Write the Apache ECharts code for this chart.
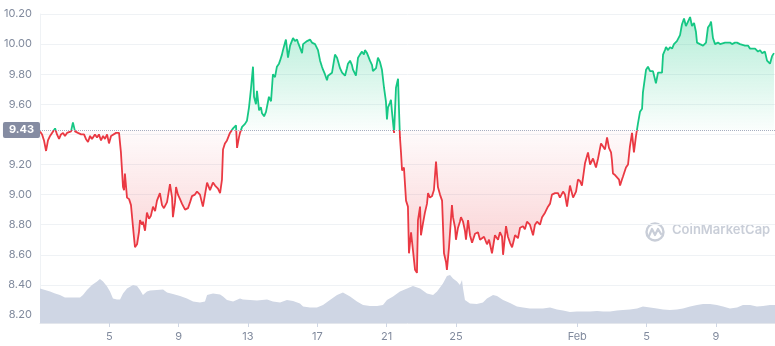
<!DOCTYPE html>
<html>
<head>
<meta charset="utf-8">
<script src="https://cdn.jsdelivr.net/npm/echarts@6/dist/echarts.min.js"></script>
<style>
  html, body { margin: 0; padding: 0; background: #fff; }
  #chart { width: 775px; height: 346px; }
</style>
</head>
<body>
<div id="chart"></div>
<script>
// days since Jan 1 00:00
var priceDays = [
  0.00, 0.12, 0.23, 0.35, 0.46, 0.58, 0.69, 0.87, 0.98, 1.10, 1.21, 1.33, 1.44, 1.56, 1.67, 1.79, 1.90, 2.02, 2.19, 2.37,
  2.54, 2.65, 2.77, 2.89, 3.00, 3.17, 3.29, 3.40, 3.52, 3.64, 3.75, 3.87, 3.98, 4.10, 4.21, 4.39, 4.56, 4.67, 4.79, 4.85,
  4.90, 5.02, 5.14, 5.25, 5.37, 5.42, 5.48, 5.60, 5.71, 5.77, 5.89, 5.94, 6.06, 6.17, 6.29, 6.40, 6.52, 6.64, 6.75, 6.92,
  7.04, 7.15, 7.33, 7.50, 7.62, 7.67, 7.79, 7.85, 7.96, 8.08, 8.19, 8.37, 8.54, 8.66, 8.77, 8.94, 9.06, 9.23, 9.40, 9.52,
  9.64, 9.81, 9.98, 10.10, 10.27, 10.39, 10.50, 10.56, 10.67, 10.79, 10.96, 11.14, 11.31, 11.37, 11.48, 11.54, 11.66, 11.83, 11.94, 12.06,
  12.17, 12.29, 12.35, 12.46, 12.52, 12.64, 12.75, 12.81, 12.93, 13.04, 13.10, 13.21, 13.33, 13.44, 13.56, 13.67, 13.79, 13.85, 13.96, 14.02,
  14.14, 14.19, 14.31, 14.43, 14.54, 14.60, 14.71, 14.83, 14.89, 15.00, 15.12, 15.18, 15.29, 15.41, 15.58, 15.69, 15.87, 16.04, 16.16, 16.27,
  16.33, 16.44, 16.56, 16.62, 16.73, 16.85, 17.02, 17.14, 17.19, 17.31, 17.43, 17.60, 17.71, 17.77, 17.89, 18.00, 18.06, 18.23, 18.35, 18.46,
  18.58, 18.69, 18.75, 18.87, 18.93, 19.04, 19.16, 19.21, 19.39, 19.50, 19.62, 19.73, 19.85, 19.96, 20.02, 20.08, 20.19, 20.25, 20.31, 20.43,
  20.54, 20.66, 20.71, 20.77, 20.83, 20.89, 21.00, 21.12, 21.23, 21.29, 21.41, 21.52, 21.64, 21.75, 21.81, 21.93, 21.98, 22.10, 22.21, 22.33,
  22.39, 22.50, 22.62, 22.73, 22.85, 22.96, 23.08, 23.20, 23.31, 23.43, 23.48, 23.60, 23.72, 23.77, 23.83, 23.95, 24.00, 24.12, 24.23, 24.29,
  24.41, 24.52, 24.58, 24.70, 24.81, 24.93, 25.10, 25.27, 25.39, 25.50, 25.62, 25.79, 25.91, 26.08, 26.25, 26.43, 26.54, 26.66, 26.72, 26.89,
  27.00, 27.12, 27.24, 27.41, 27.58, 27.70, 27.87, 27.98, 28.10, 28.27, 28.45, 28.56, 28.68, 28.85, 28.97, 29.14, 29.31, 29.43, 29.54, 29.72,
  29.89, 30.00, 30.18, 30.29, 30.41, 30.58, 30.76, 30.93, 31.04, 31.16, 31.27, 31.45, 31.62, 31.74, 31.91, 32.08, 32.20, 32.37, 32.49, 32.60,
  32.72, 32.83, 32.95, 33.00, 33.06, 33.18, 33.29, 33.41, 33.47, 33.58, 33.64, 33.81, 33.93, 34.04, 34.16, 34.27, 34.39, 34.50, 34.62, 34.74,
  34.79, 34.97, 35.08, 35.20, 35.26, 35.37, 35.54, 35.66, 35.77, 35.89, 35.95, 36.06, 36.12, 36.24, 36.35, 36.47, 36.58, 36.64, 36.75, 36.81,
  36.93, 37.04, 37.16, 37.27, 37.39, 37.51, 37.62, 37.74, 37.85, 37.91, 38.08, 38.26, 38.43, 38.54, 38.66, 38.72, 38.83, 38.95, 39.12, 39.24,
  39.35, 39.53, 39.64, 39.81, 39.93, 40.10, 40.22, 40.39, 40.50, 40.68, 40.85, 40.97, 41.08, 41.26, 41.43, 41.55, 41.66, 41.83, 41.95, 42.12,
  42.24, 42.35
];
var prices = [
  9.42, 9.40, 9.36, 9.29, 9.36, 9.39, 9.38, 9.44, 9.40, 9.37, 9.40, 9.41, 9.39, 9.41, 9.40, 9.42, 9.48, 9.42, 9.41, 9.40,
  9.40, 9.37, 9.35, 9.39, 9.37, 9.40, 9.38, 9.40, 9.36, 9.39, 9.37, 9.40, 9.34, 9.39, 9.40, 9.41, 9.41, 9.28, 9.05, 9.03,
  9.14, 8.98, 8.97, 8.93, 8.78, 8.72, 8.65, 8.67, 8.75, 8.83, 8.80, 8.82, 8.76, 8.88, 8.84, 8.86, 8.92, 8.89, 8.96, 9.01,
  8.93, 8.91, 8.95, 9.07, 8.98, 8.85, 8.95, 9.05, 9.00, 8.97, 8.94, 8.90, 8.91, 8.95, 8.99, 9.00, 9.02, 9.00, 8.92, 9.00,
  9.08, 9.03, 9.08, 9.06, 9.04, 9.01, 9.10, 9.30, 9.34, 9.36, 9.41, 9.44, 9.46, 9.31, 9.38, 9.41, 9.45, 9.47, 9.49, 9.58,
  9.70, 9.85, 9.65, 9.60, 9.69, 9.56, 9.58, 9.54, 9.52, 9.55, 9.56, 9.65, 9.62, 9.80, 9.78, 9.85, 9.87, 9.89, 9.93, 9.96,
  10.01, 10.03, 9.91, 9.99, 10.00, 10.04, 10.02, 10.03, 10.01, 10.02, 9.94, 10.00, 10.01, 10.02, 10.03, 10.01, 10.00, 9.96, 9.89, 9.85,
  9.83, 9.80, 9.76, 9.79, 9.78, 9.81, 9.93, 9.91, 9.89, 9.84, 9.81, 9.79, 9.84, 9.87, 9.89, 9.86, 9.83, 9.79, 9.91, 9.93,
  9.95, 9.93, 9.96, 9.94, 9.93, 9.89, 9.86, 9.82, 9.84, 9.91, 9.88, 9.83, 9.71, 9.62, 9.50, 9.58, 9.61, 9.63, 9.55, 9.41,
  9.71, 9.77, 9.58, 9.38, 9.28, 9.16, 9.18, 8.96, 8.92, 8.61, 8.75, 8.74, 8.50, 8.48, 8.83, 8.92, 8.73, 8.81, 8.88, 8.94,
  9.01, 8.98, 8.99, 9.03, 9.22, 9.05, 9.00, 8.96, 8.61, 8.55, 8.50, 8.65, 8.85, 8.93, 8.85, 8.78, 8.70, 8.78, 8.82, 8.85,
  8.82, 8.76, 8.70, 8.83, 8.73, 8.68, 8.74, 8.75, 8.70, 8.69, 8.72, 8.67, 8.70, 8.61, 8.73, 8.70, 8.75, 8.72, 8.60, 8.79,
  8.72, 8.68, 8.65, 8.73, 8.71, 8.78, 8.79, 8.77, 8.82, 8.80, 8.73, 8.80, 8.82, 8.80, 8.85, 8.88, 8.92, 8.94, 9.00, 9.01,
  9.01, 8.98, 9.02, 9.00, 8.92, 9.06, 8.98, 9.02, 9.10, 9.09, 9.06, 9.21, 9.28, 9.20, 9.24, 9.18, 9.24, 9.34, 9.32, 9.30,
  9.38, 9.31, 9.28, 9.23, 9.14, 9.13, 9.12, 9.10, 9.06, 9.10, 9.12, 9.18, 9.20, 9.32, 9.41, 9.28, 9.39, 9.47, 9.55, 9.57,
  9.68, 9.83, 9.85, 9.82, 9.82, 9.82, 9.74, 9.81, 9.82, 9.81, 9.93, 9.96, 9.98, 9.96, 9.98, 9.97, 10.00, 9.99, 10.02, 10.01,
  10.06, 10.13, 10.17, 10.12, 10.15, 10.18, 10.12, 10.14, 10.08, 10.01, 10.00, 9.99, 10.01, 10.11, 10.13, 10.15, 10.04, 10.00, 10.01, 10.00,
  10.00, 10.01, 10.00, 10.01, 10.00, 10.01, 10.01, 10.00, 10.00, 9.99, 9.99, 9.97, 9.98, 9.97, 9.95, 9.96, 9.94, 9.95, 9.89, 9.87,
  9.92, 9.94
];

var volumeDays = [
  0.00, 0.29, 0.58, 0.87, 1.15, 1.44, 1.73, 2.02, 2.31, 2.48, 2.71, 3.00, 3.29, 3.46, 3.64, 3.87, 4.04, 4.21, 4.44, 4.62,
  4.79, 5.02, 5.37, 5.60, 5.77, 5.94, 6.17, 6.35, 6.75, 7.10, 7.33, 7.67, 8.08, 8.48, 8.83, 9.23, 9.52, 9.64, 9.98, 10.39,
  10.56, 10.79, 11.14, 11.54, 11.71, 12.12, 12.52, 13.10, 13.44, 13.85, 14.25, 14.60, 15.00, 15.18, 15.58, 15.98, 16.33, 16.73, 17.14, 17.48,
  17.89, 18.29, 18.64, 19.04, 19.45, 19.79, 20.02, 20.37, 20.77, 21.18, 21.52, 21.93, 22.33, 22.68, 22.91, 23.25, 23.48, 23.66, 23.83, 24.06,
  24.23, 24.35, 24.41, 24.52, 24.81, 25.21, 25.56, 25.79, 26.14, 26.37, 26.72, 27.12, 27.52, 27.87, 28.27, 28.68, 29.02, 29.43, 29.83, 30.18,
  30.58, 30.98, 31.33, 31.74, 32.14, 32.49, 32.89, 33.29, 33.64, 34.04, 34.45, 34.79, 35.20, 35.60, 35.95, 36.35, 36.75, 37.10, 37.51, 37.91,
  38.26, 38.66, 39.06, 39.41, 39.81, 40.22, 40.56, 40.97, 41.37, 41.72, 42.12, 42.41
];
// volume, millions
var volumes = [
  69, 66, 63, 59, 56, 51, 51, 51, 51, 56, 66, 76, 83, 88, 83, 73, 63, 49, 47, 47,
  59, 69, 76, 74, 66, 56, 63, 65, 66, 67, 61, 58, 54, 49, 43, 41, 43, 56, 59, 57,
  53, 46, 43, 49, 47, 46, 45, 47, 43, 41, 46, 44, 39, 33, 31, 31, 36, 46, 56, 61,
  53, 43, 36, 34, 34, 36, 46, 53, 63, 69, 74, 69, 59, 56, 63, 79, 94, 96, 89, 83,
  76, 86, 69, 46, 39, 38, 41, 49, 56, 54, 46, 40, 33, 31, 29, 29, 29, 31, 27, 25,
  22, 23, 23, 23, 24, 23, 23, 25, 26, 27, 29, 33, 31, 29, 27, 26, 27, 29, 33, 36,
  38, 38, 36, 33, 29, 31, 36, 36, 33, 34, 36, 36
];

var tickDays = [4, 8, 12, 16, 20, 24, 31, 35, 39];
var tickLabels = ['5', '9', '13', '17', '21', '25', 'Feb', '5', '9'];

var baselinePrice = 9.43;
var priceMin = 8.2, priceMax = 10.2, priceStep = 0.2;
var dayMax = 42.41;

var green = '#16c784';
var red = '#ea3943';
var labelColor = '#808a9d';
var gridColor = '#eff2f5';

var priceData = priceDays.map(function (d, i) { return [d, prices[i]]; });
var volumeData = volumeDays.map(function (d, i) { return [d, volumes[i]]; });

// where the baseline sits inside the line's own bounding box (0 = top)
var hi = Math.max.apply(null, prices);
var lo = Math.min.apply(null, prices);
var split = (hi - baselinePrice) / (hi - lo);

var myChart = echarts.init(document.getElementById('chart'));

var option = {
  animation: false,
  grid: [
    { left: 40, right: 0, top: 14, bottom: 31 },
    { left: 40, right: 0, top: 263, bottom: 23 }
  ],
  xAxis: [
    {
      type: 'value', gridIndex: 0, min: 0, max: dayMax,
      show: false
    },
    {
      type: 'value', gridIndex: 1, min: 0, max: dayMax,
      axisLine: { show: true, lineStyle: { color: '#e3e6ec' } },
      axisTick: { show: true, customValues: tickDays, length: 4, lineStyle: { color: '#cfd6e4' } },
      splitLine: { show: false },
      axisLabel: {
        customValues: tickDays,
        color: labelColor,
        fontFamily: 'Inter',
        fontSize: 11,
        margin: 8,
        formatter: function (v) {
          var i = tickDays.indexOf(v);
          return i >= 0 ? tickLabels[i] : '';
        }
      }
    }
  ],
  yAxis: [
    {
      type: 'value', gridIndex: 0,
      min: priceMin, max: priceMax, interval: priceStep,
      axisLine: { show: true, lineStyle: { color: gridColor } },
      axisTick: { show: false },
      axisLabel: {
        color: labelColor,
        fontFamily: 'Inter',
        fontSize: 11,
        margin: 8,
        formatter: function (v) { return v.toFixed(2); }
      },
      splitLine: { lineStyle: { color: gridColor, width: 1 } }
    },
    {
      type: 'value', gridIndex: 1, min: 0, max: 120,
      axisLine: { show: true, lineStyle: { color: gridColor } },
      axisTick: { show: false },
      axisLabel: { show: false },
      splitLine: { show: false }
    }
  ],
  graphic: [
    {
      type: 'circle',
      shape: { cx: 655, cy: 232, r: 8.5 },
      style: { fill: 'none', stroke: '#c9ced8', lineWidth: 2.4 },
      silent: true
    },
    {
      type: 'polyline',
      shape: { points: [[649, 236], [652, 229], [655, 235], [658, 229], [661, 234]] },
      style: { fill: 'none', stroke: '#c9ced8', lineWidth: 2.2, lineJoin: 'round', lineCap: 'round' },
      silent: true
    },
    {
      type: 'text',
      left: 672,
      top: 224,
      style: {
        text: 'CoinMarketCap',
        fill: '#c9ced8',
        font: '600 13px Inter'
      },
      silent: true
    }
  ],
  series: [
    {
      name: 'Volume',
      type: 'line',
      xAxisIndex: 1,
      yAxisIndex: 1,
      data: volumeData,
      showSymbol: false,
      lineStyle: { width: 0 },
      areaStyle: { color: '#cfd6e4', opacity: 1 },
      silent: true
    },
    {
      name: 'Price',
      type: 'line',
      xAxisIndex: 0,
      yAxisIndex: 0,
      data: priceData,
      showSymbol: false,
      lineStyle: {
        width: 1.8,
        color: {
          type: 'linear', x: 0, y: 0, x2: 0, y2: 1,
          colorStops: [
            { offset: 0, color: green },
            { offset: split, color: green },
            { offset: split, color: red },
            { offset: 1, color: red }
          ]
        }
      },
      areaStyle: {
        origin: baselinePrice,
        opacity: 1,
        color: {
          type: 'linear', x: 0, y: 0, x2: 0, y2: 1,
          colorStops: [
            { offset: 0, color: 'rgba(22,199,132,0.32)' },
            { offset: split, color: 'rgba(22,199,132,0.02)' },
            { offset: split, color: 'rgba(234,57,67,0.02)' },
            { offset: 1, color: 'rgba(234,57,67,0.26)' }
          ]
        }
      },
      markLine: {
        silent: true,
        symbol: ['none', 'none'],
        lineStyle: { type: 'dotted', color: '#a6aec0', width: 1 },
        label: {
          position: 'start',
          distance: 0,
          formatter: function (p) { return p.value.toFixed(2); },
          color: '#fff',
          backgroundColor: '#858ca2',
          fontFamily: 'Inter',
          fontWeight: 'bold',
          fontSize: 11,
          padding: [3, 6, 2, 6],
          borderRadius: 2
        },
        emphasis: { disabled: true },
        data: [{ yAxis: baselinePrice }]
      }
    }
  ]
};

myChart.setOption(option);
</script>
</body>
</html>
